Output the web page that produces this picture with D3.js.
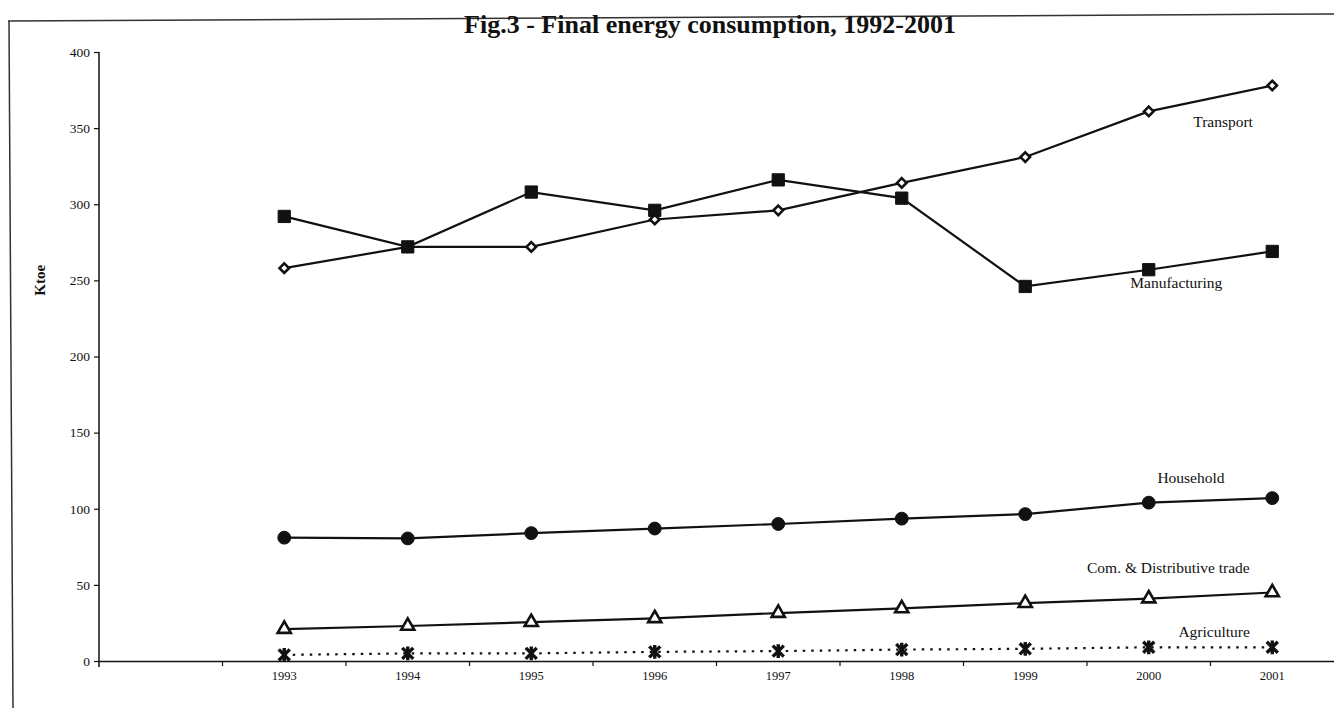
<!DOCTYPE html>
<html>
<head>
<meta charset="utf-8">
<script src="https://cdn.jsdelivr.net/npm/d3@7"></script>
<style>
  body { margin: 0; background: #fff; }
  text { font-family: "Liberation Serif", "Times New Roman", serif; fill: #111; }
</style>
</head>
<body>
<svg id="plot"></svg>
<script>
// categories on the x axis (1992 slot is empty in the original)
var years = ['1992','1993','1994','1995','1996','1997','1998','1999','2000','2001'];
var yearLabels = ['','1993','1994','1995','1996','1997','1998','1999','2000','2001'];
var dataYears = ['1993','1994','1995','1996','1997','1998','1999','2000','2001'];

// Ktoe
var transport     = [258, 272, 272, 290, 296, 314, 331, 361, 378];
var manufacturing = [292, 272, 308, 296, 316, 304, 246, 257, 269];
var household     = [81, 80.5, 84, 87, 90, 93.5, 96.5, 104, 107];
var commerce      = [21, 23, 25.5, 28, 31.5, 34.5, 38, 41, 45];
var agriculture   = [4, 5, 5, 6, 6.5, 7.5, 8, 9, 9];

var yTicks = [0, 50, 100, 150, 200, 250, 300, 350, 400];

var w = 1334, h = 708;
var mLeft = 99, mRight = 1334, mTop = 52, mBottom = 661;

var svg = d3.select('#plot').attr('width', w).attr('height', h);

var xs = d3.scaleBand().domain(years).range([mLeft, mRight]);
var ys = d3.scaleLinear().domain([0, 400]).range([mBottom, mTop]);

// scanned frame
svg.append('line')
    .attr('x1', 8).attr('y1', 21).attr('x2', 1334).attr('y2', 14)
    .attr('stroke', '#333').attr('stroke-width', 1.5);
svg.append('line')
    .attr('x1', 9).attr('y1', 21).attr('x2', 13).attr('y2', 708)
    .attr('stroke', '#333').attr('stroke-width', 1.5);

// y axis
var yAxis = svg.append('g')
    .attr('transform', 'translate(' + mLeft + ',0)')
    .call(d3.axisLeft(ys).tickValues(yTicks).tickSize(5).tickPadding(4));
yAxis.select('.domain').attr('stroke', '#111').attr('stroke-width', 1.5).attr('d', 'M0,' + mTop + 'V' + (mBottom + 6));
yAxis.selectAll('.tick line').attr('stroke', '#111').attr('stroke-width', 1.2);
yAxis.selectAll('.tick text').style('font', '13.5px "Liberation Serif", serif').attr('fill', '#111');

// x axis: labels at band centres, ticks on band edges
var xAxis = svg.append('g')
    .attr('transform', 'translate(0,' + mBottom + ')')
    .call(d3.axisBottom(xs).tickSize(0).tickPadding(10).tickFormat(function(d, i) { return yearLabels[i]; }));
xAxis.select('.domain').attr('stroke', '#111').attr('stroke-width', 1.5);
xAxis.selectAll('.tick text').style('font', '12.5px "Liberation Serif", serif').attr('fill', '#111');
xAxis.selectAll('.edge')
    .data(years.slice(1))
    .enter()
    .append('line')
    .attr('x1', function(d) { return xs(d); })
    .attr('x2', function(d) { return xs(d); })
    .attr('y1', 0).attr('y2', 5)
    .attr('stroke', '#111').attr('stroke-width', 1.2);

// axis title
svg.append('text')
    .attr('transform', 'translate(45,' + ys(250) + ') rotate(-90)')
    .attr('text-anchor', 'middle')
    .style('font', 'bold 15px "Liberation Serif", serif')
    .text('Ktoe');

// chart title
svg.append('text')
    .attr('x', 710)
    .attr('y', 33)
    .attr('text-anchor', 'middle')
    .style('font', 'bold 26px "Liberation Serif", serif')
    .text('Fig.3 - Final energy consumption, 1992-2001');

var cx = function(d, i) { return xs(dataYears[i]) + xs.bandwidth() / 2; };

var asterisk = {
    draw: function(ctx, size) {
        var r = Math.sqrt(size) / 2;
        ctx.moveTo(0, -r); ctx.lineTo(0, r);
        ctx.moveTo(-r * 0.8, -r * 0.8); ctx.lineTo(r * 0.8, r * 0.8);
        ctx.moveTo(-r * 0.8, r * 0.8); ctx.lineTo(r * 0.8, -r * 0.8);
    }
};

// square turned 45 degrees (d3's diamond is too tall)
var rhombus = {
    draw: function(ctx, size) {
        var r = Math.sqrt(size) / 2;
        ctx.moveTo(0, -r); ctx.lineTo(r, 0); ctx.lineTo(0, r); ctx.lineTo(-r, 0);
        ctx.closePath();
    }
};

var series = [
    { name: 'Transport', values: transport, sym: rhombus, size: 90, fill: '#fff', sw: 2.6, dash: null },
    { name: 'Manufacturing', values: manufacturing, sym: d3.symbolSquare, size: 150, fill: '#111', sw: 1, dash: null },
    { name: 'Household', values: household, sym: d3.symbolCircle, size: 130, fill: '#111', sw: 1, dash: null },
    { name: 'Com. & Distributive trade', values: commerce, sym: d3.symbolTriangle, size: 75, fill: '#fff', sw: 2.6, dash: null },
    { name: 'Agriculture', values: agriculture, sym: asterisk, size: 190, fill: 'none', sw: 3.4, dash: '2.5,6' }
];

var line = d3.line().x(cx).y(function(d) { return ys(d); });

series.forEach(function(s) {
    svg.append('path')
        .datum(s.values)
        .attr('d', line)
        .attr('fill', 'none')
        .attr('stroke', '#111')
        .attr('stroke-width', 2.2)
        .attr('stroke-dasharray', s.dash);
});

series.forEach(function(s) {
    svg.append('g')
        .selectAll('path')
        .data(s.values)
        .enter()
        .append('path')
        .attr('transform', function(d, i) { return 'translate(' + cx(d, i) + ',' + ys(d) + ')'; })
        .attr('d', d3.symbol().type(s.sym).size(s.size))
        .attr('fill', s.fill)
        .attr('stroke', '#111')
        .attr('stroke-width', s.sw);
});

// series labels, anchored near the 2000 point
var labelNames = ['Transport', 'Manufacturing', 'Household', 'Com. & Distributive trade', 'Agriculture'];
var labelValues = [351, 245, 117, 57.5, 16];
var labelShift = [0.36, -0.15, 0.07, -0.5, 0.24];

svg.append('g')
    .selectAll('text')
    .data(labelNames)
    .enter()
    .append('text')
    .attr('x', function(d, i) { return xs('2000') + xs.bandwidth() * (0.5 + labelShift[i]); })
    .attr('y', function(d, i) { return ys(labelValues[i]); })
    .style('font', '15.5px "Liberation Serif", serif')
    .text(function(d) { return d; });
</script>
</body>
</html>
